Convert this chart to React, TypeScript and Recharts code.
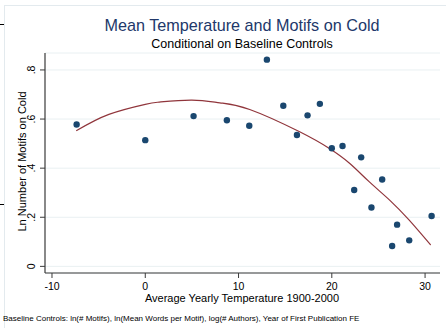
import React from 'react';
import { ComposedChart, Scatter, Line, XAxis, YAxis, CartesianGrid } from 'recharts';

const tempX = [-7.36, 0.0, 5.18, 8.75, 11.15, 13.04, 14.8, 16.26, 17.4, 18.72, 20.0, 21.15, 23.15, 22.4, 25.4, 24.25, 27.0, 26.47, 28.3, 30.7];
const motifsY = [0.578, 0.514, 0.612, 0.595, 0.573, 0.842, 0.654, 0.535, 0.615, 0.662, 0.481, 0.49, 0.444, 0.311, 0.354, 0.24, 0.17, 0.083, 0.106, 0.205];

const fitX = [-7.4, -3.9, 0, 1.5, 5, 8, 11.2, 16.5, 19.7, 21.9, 24, 26.2, 28.3, 30.6];
const fitY = [0.552, 0.619, 0.66, 0.669, 0.677, 0.666, 0.639, 0.549, 0.481, 0.42, 0.345, 0.27, 0.188, 0.087];

const xTicks = [-10, 0, 10, 20, 30];
const yTicks = [0, 0.2, 0.4, 0.6, 0.8];
const yTickLabels = ['0', '.2', '.4', '.6', '.8'];

const scatterData = tempX.map((x, i) => ({ x, y: motifsY[i] }));
const fitData = fitX.map((x, i) => ({ x, y: fitY[i] }));

const FONT = '"Liberation Sans", Arial, Helvetica, sans-serif';
const NAVY = '#1a476f';
const MAROON = '#90353b';
const AXIS = '#3a3a3a';

const XTick = (props: any) => {
  const { x, payload } = props;
  return (
    <text x={x} y={290} textAnchor="middle" fontFamily={FONT} fontSize={10.5} fill="#000">
      {String(payload.value)}
    </text>
  );
};

const YTick = (props: any) => {
  const { y, payload } = props;
  const idx = yTicks.indexOf(payload.value);
  const label = idx >= 0 ? yTickLabels[idx] : String(payload.value);
  return (
    <text
      x={0}
      y={0}
      transform={`translate(34.5, ${y}) rotate(-90)`}
      textAnchor="middle"
      fontFamily={FONT}
      fontSize={10.5}
      fill="#000"
    >
      {label}
    </text>
  );
};

const Dot = (props: any) => {
  const { cx, cy } = props;
  return <circle cx={cx} cy={cy} r={3.2} fill={NAVY} />;
};

export default function App() {
  return (
    <div style={{ position: 'absolute', left: 0, top: 0, width: 446, height: 328, background: '#fff', overflow: 'hidden' }}>
      <ComposedChart
        width={446}
        height={328}
        margin={{ top: 53, right: 6, bottom: 25, left: 5 }}
      >
        <CartesianGrid horizontal={true} vertical={false} stroke="#e9f0f2" strokeWidth={1} />
        <XAxis
          type="number"
          dataKey="x"
          domain={[-10.75, 31.6]}
          ticks={xTicks}
          allowDataOverflow
          height={30}
          tickSize={5}
          axisLine={{ stroke: AXIS, strokeWidth: 1.2 }}
          tickLine={{ stroke: AXIS, strokeWidth: 1 }}
          tick={<XTick />}
          interval={0}
        />
        <YAxis
          type="number"
          dataKey="y"
          domain={[-0.027, 0.869]}
          ticks={yTicks}
          allowDataOverflow
          width={40}
          tickSize={5}
          axisLine={{ stroke: AXIS, strokeWidth: 1.2 }}
          tickLine={{ stroke: AXIS, strokeWidth: 1 }}
          tick={<YTick />}
          interval={0}
        />
        <Line
          data={fitData}
          dataKey="y"
          type="natural"
          stroke={MAROON}
          strokeWidth={1.2}
          dot={false}
          activeDot={false}
          isAnimationActive={false}
        />
        <Scatter data={scatterData} dataKey="y" fill={NAVY} shape={<Dot />} isAnimationActive={false} />
      </ComposedChart>
      <svg
        width={446}
        height={328}
        style={{ position: 'absolute', left: 0, top: 0, pointerEvents: 'none' }}
      >
        <rect x={4.5} y={5.5} width={460} height={340} fill="none" stroke="#e3eaee" strokeWidth={1} />
        <line x1={0} y1={24.5} x2={4} y2={24.5} stroke="#000" strokeWidth={1} />
        <line x1={0} y1={204.5} x2={4} y2={204.5} stroke="#000" strokeWidth={1} />
        <text x={242} y={31} textAnchor="middle" fontFamily={FONT} fontSize={16.2} fill="#22386a">
          Mean Temperature and Motifs on Cold
        </text>
        <text x={242} y={48} textAnchor="middle" fontFamily={FONT} fontSize={12.5} fill="#000">
          Conditional on Baseline Controls
        </text>
        <text
          x={0}
          y={0}
          transform="translate(26, 161.5) rotate(-90)"
          textAnchor="middle"
          fontFamily={FONT}
          fontSize={11}
          fill="#000"
        >
          Ln Number of Motifs on Cold
        </text>
        <text x={242} y={302} textAnchor="middle" fontFamily={FONT} fontSize={11} fill="#000">
          Average Yearly Temperature 1900-2000
        </text>
        <text x={3} y={320.5} fontFamily={FONT} fontSize={8} fill="#000">
          Baseline Controls: ln(# Motifs), ln(Mean Words per Motif), log(# Authors), Year of First Publication FE
        </text>
      </svg>
    </div>
  );
}
